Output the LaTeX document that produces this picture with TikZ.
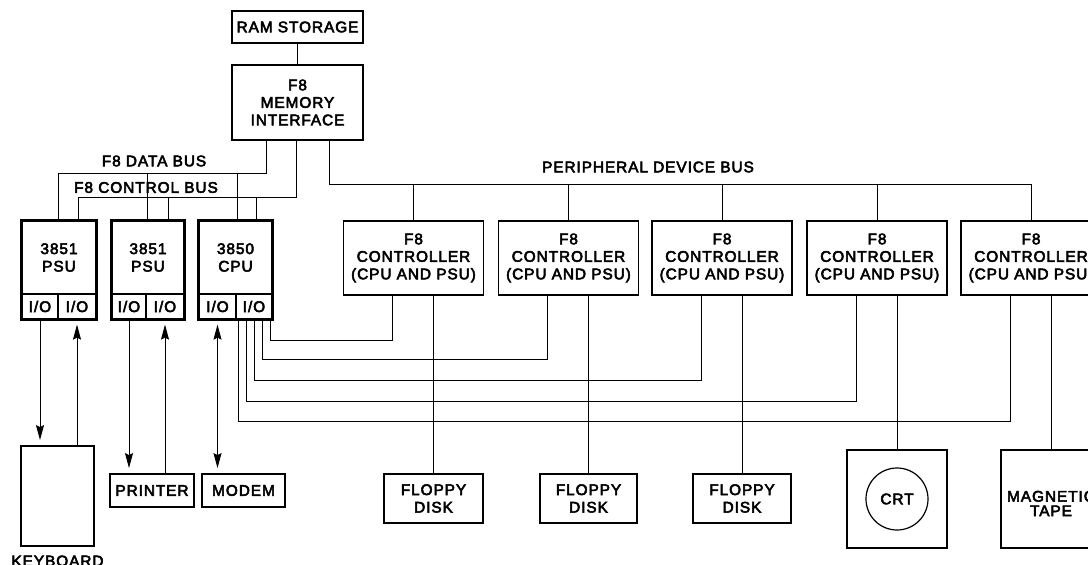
\documentclass[tikz,border=0pt]{standalone}
\usepackage{fontspec}
\setmainfont{Liberation Sans}[FakeBold=3.5,LetterSpace=6]
\usetikzlibrary{arrows.meta,calc}
\begin{document}
\begin{tikzpicture}[x=1pt,y=-1pt,
  every node/.style={font=\fontsize{15.4}{17.5}\selectfont},
  box/.style={draw,line width=1.8pt,inner sep=0pt,align=center},
  cell/.style={draw,line width=1.2pt,inner sep=0pt,minimum height=25pt},
  wire/.style={line width=1pt},
  tip/.style={-{Stealth[length=15pt,width=8pt,inset=2pt]}},
  arr/.style={wire,tip,shorten >=5pt},
  dbl/.style={wire,{Stealth[length=15pt,width=8pt,inset=2pt]}-{Stealth[length=15pt,width=8pt,inset=2pt]},shorten >=5pt,shorten <=5pt},
  lbl/.style={inner sep=0.5pt}]
\useasboundingbox (0,0) rectangle (1088,565);
\clip (0,0) rectangle (1088,565);

% memory
\node[box,minimum width=131pt,minimum height=32pt] (ram) at (297.5,27) {RAM STORAGE};
\node[box,minimum width=131pt,minimum height=75pt] (mi) at (297.5,102.5) {F8\\MEMORY\\INTERFACE};
\draw[wire] (ram) -- (mi);

% PSU / CPU units
\node[box,minimum width=74pt,minimum height=73pt] (psu1) at (59,257.5) {3851\\PSU};
\node[cell,minimum width=36pt] (io1a) at (40,306.5) {I/O};
\node[cell,minimum width=38pt] (io1b) at (77,306.5) {I/O};
\draw[line width=1.8pt] (psu1.north west) rectangle (io1b.south east);

\node[box,minimum width=72pt,minimum height=73pt] (psu2) at (148,257.5) {3851\\PSU};
\node[cell,minimum width=34pt] (io2a) at (129,306.5) {I/O};
\node[cell,minimum width=38pt] (io2b) at (165,306.5) {I/O};
\draw[line width=1.8pt] (psu2.north west) rectangle (io2b.south east);

\node[box,minimum width=73pt,minimum height=73pt] (cpu) at (235.5,257.5) {3850\\CPU};
\node[cell,minimum width=37pt] (io3a) at (217.5,306.5) {I/O};
\node[cell,minimum width=36pt] (io3b) at (254,306.5) {I/O};
\draw[line width=1.8pt] (cpu.north west) rectangle (io3b.south east);

% controllers
\foreach \i/\x in {1/413.5,2/568.5,3/722,4/877,5/1031}
  \node[box,minimum width=140pt,minimum height=74pt] (ctl\i) at (\x,258) {F8\\CONTROLLER\\(CPU AND PSU)};

% devices
\node[box,minimum width=73pt,minimum height=100pt] (kbd) at (57.5,496) {};
\node[lbl] (kbdl) at (57.5,561) {KEYBOARD};
\node[box,minimum width=84pt,minimum height=33pt] (prn) at (152,490.5) {PRINTER};
\node[box,minimum width=83pt,minimum height=33pt] (mdm) at (243.5,490.5) {MODEM};
\node[box,minimum width=99pt,minimum height=49pt] (fd1) at (433.5,498.5) {FLOPPY\\DISK};
\node[box,minimum width=97pt,minimum height=49pt] (fd2) at (588.5,498.5) {FLOPPY\\DISK};
\node[box,minimum width=98pt,minimum height=49pt] (fd3) at (742,498.5) {FLOPPY\\DISK};
\node[box,minimum width=100pt,minimum height=98pt] (crt) at (897,499) {};
\node[draw,circle,line width=1.2pt,minimum size=62pt,inner sep=0pt] (crtc) at (crt.center) {CRT};
\node[box,minimum width=100pt,minimum height=98pt] (tape) at (1051,499) {};
\node[lbl,align=center,font=\fontsize{15.4}{14.5}\selectfont] (tapel) at (1051,503.5) {MAGNETIC\\TAPE};

% data bus
\coordinate (dbR) at (266,173);
\coordinate (dbL) at (58,173);
\coordinate (db2) at (147,173);
\coordinate (db3) at (237,173);
\draw[wire] (mi.south -| dbR) -- (dbR) -- (dbL) -- (psu1.north -| dbL);
\draw[wire] (db2) -- (psu2.north -| db2);
\draw[wire] (db3) -- (cpu.north -| db3);

% control bus
\coordinate (cbR) at (296,197);
\coordinate (cbL) at (78,197);
\coordinate (cb2) at (168,197);
\coordinate (cb3) at (256,197);
\draw[wire] (mi.south -| cbR) -- (cbR) -- (cbL) -- (psu1.north -| cbL);
\draw[wire] (cb2) -- (psu2.north -| cb2);
\draw[wire] (cb3) -- (cpu.north -| cb3);

% peripheral bus
\coordinate (pbL) at (329,184);
\coordinate (pbR) at (1031,184);
\draw[wire] (mi.south -| pbL) -- (pbL) -- (pbR) -- (ctl5.north);
\foreach \i in {1,2,3,4}
  \draw[wire] (ctl\i.north |- pbL) -- (ctl\i.north);

% bus labels
\node[lbl] (dblab) at (154,161) {F8 DATA BUS};
\node[lbl,fill=white] (cblab) at (146,187.5) {F8 CONTROL BUS};
\node[lbl] (pblab) at (648,167) {PERIPHERAL DEVICE BUS};

% CPU I/O to controllers
\draw[wire] ($(ctl1.south)+(-21,0)$) |- ($(io3b.south)+(16,21)$) -- ($(io3b.south)+(16,0)$);
\draw[wire] ($(ctl2.south)+(-21,0)$) |- ($(io3b.south)+(8,40)$) -- ($(io3b.south)+(8,0)$);
\draw[wire] ($(ctl3.south)+(-21,0)$) |- ($(io3b.south)+(0,61)$) -- ($(io3b.south)+(0,0)$);
\draw[wire] ($(ctl4.south)+(-21,0)$) |- ($(io3b.south)+(-8,82)$) -- ($(io3b.south)+(-8,0)$);
\draw[wire] ($(ctl5.south)+(-21,0)$) |- ($(io3b.south)+(-16,102)$) -- ($(io3b.south)+(-16,0)$);

% controllers to devices
\draw[wire] (ctl1.south -| fd1) -- (fd1.north);
\draw[wire] (ctl2.south -| fd2) -- (fd2.north);
\draw[wire] (ctl3.south -| fd3) -- (fd3.north);
\draw[wire] (ctl4.south -| crt) -- (crt.north);
\draw[wire] (ctl5.south -| tape) -- (tape.north);

% I/O arrows
\draw[arr] (io1a.south) -- (kbd.north -| io1a.south);
\draw[arr] (kbd.north -| io1b.south) -- (io1b.south);
\draw[arr] (io2a.south) -- (prn.north -| io2a.south);
\draw[arr] (prn.north -| io2b.south) -- (io2b.south);
\draw[dbl] (io3a.south) -- (mdm.north -| io3a.south);
\end{tikzpicture}
\end{document}
